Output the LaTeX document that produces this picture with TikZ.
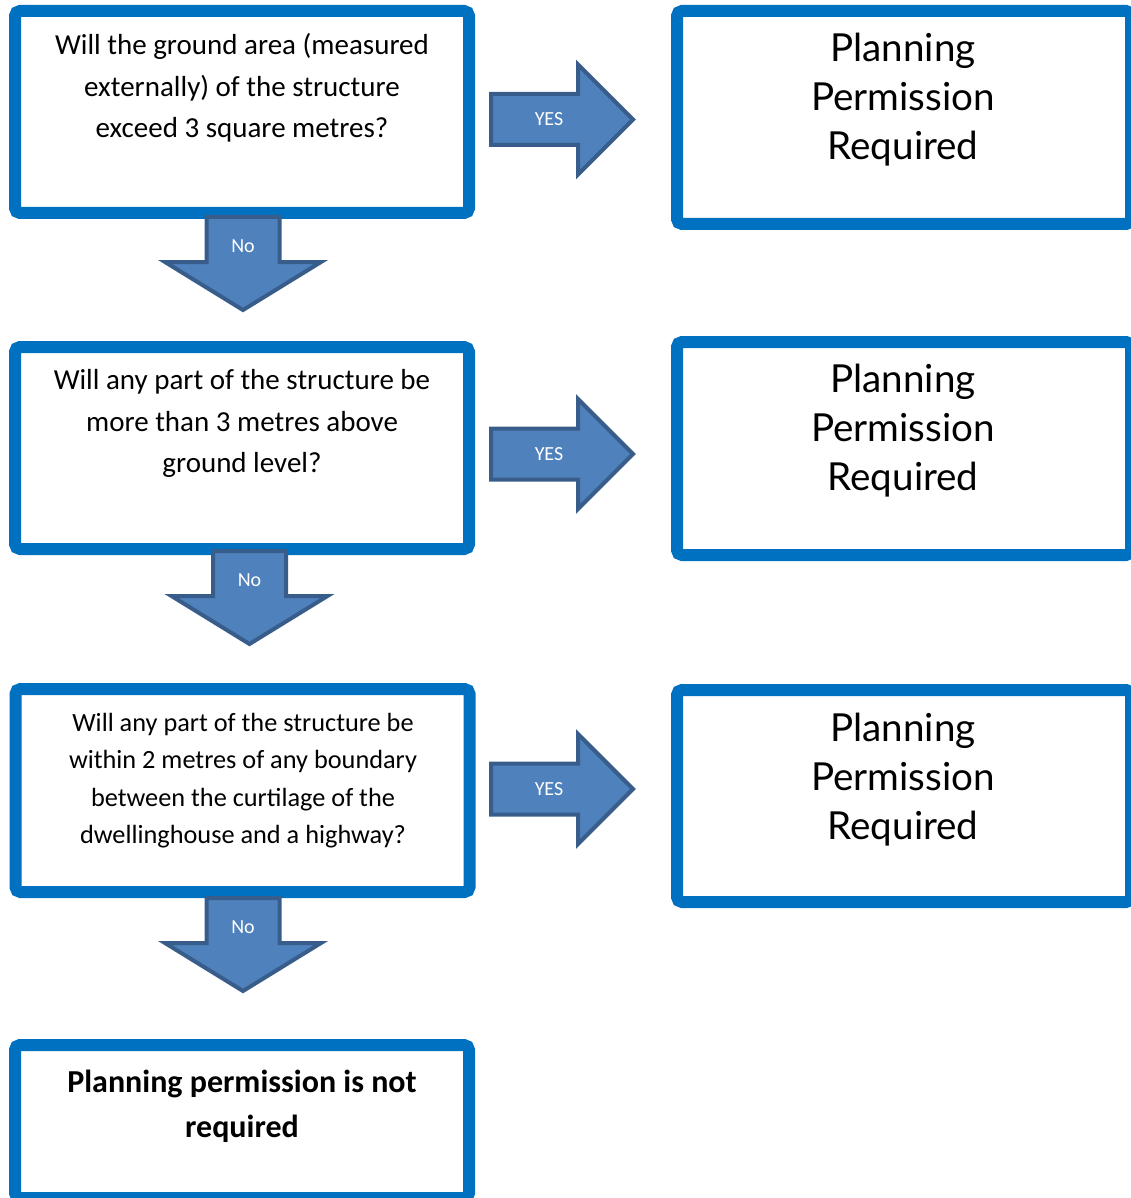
\documentclass[tikz,border=0pt]{standalone}
\usepackage{fontspec}
\setmainfont{Carlito}
\newfontfamily\gillfont{Lato}
\usepackage{tikz}
\usetikzlibrary{positioning}
\definecolor{boxblue}{HTML}{0070C0}
\definecolor{arrowfill}{HTML}{4F81BD}
\definecolor{arrowline}{HTML}{385D8A}

\begin{document}
\begin{tikzpicture}[x=1pt, y=-1pt,
  box/.style={draw=boxblue, line width=12pt, rounded corners=5pt, minimum width=454pt, inner sep=0pt},
  qtext/.style={align=center, font=\fontsize{29}{41.5}\selectfont},
  rtext/.style={align=center, font=\gillfont\fontsize{38.6}{49}\selectfont},
  barrow/.style={fill=arrowfill, draw=arrowline, line width=4pt, line join=miter},
  atext/.style={text=white, font=\fontsize{20}{24}\selectfont},
  pics/yesarrow/.style={code={
    \draw[barrow] (2,-25.5) -- (89,-25.5) -- (89,-55) -- (144,0) -- (89,55) -- (89,25.5) -- (2,25.5) -- cycle;
    \node[atext] (-l) at (60,0) {#1};
  }},
  pics/noarrow/.style={code={
    \draw[barrow] (-36.5,0) -- (-36.5,45) -- (-78,45) -- (0,93) -- (78,45) -- (36.5,45) -- (36.5,0) -- cycle;
    \node[atext] (-l) at (0,29) {#1};
  }}]
\useasboundingbox (0,0) rectangle (1130,1198);

\node[box, minimum height=202pt] (1) at (242,112) {};
\node[qtext] (1t) at (242,88) {Will the ground area (measured\\externally) of the structure\\exceed 3 square metres?};

\node[box, minimum height=202pt] (2) at (242,448) {};
\node[qtext] (2t) at (242,423.5) {Will any part of the structure be\\more than 3 metres above\\ground level?};

\node[box, minimum height=203pt] (3) at (242.5,790.5) {};
\node[qtext, font=\fontsize{26.3}{37.5}\selectfont] (3t) at (243,780.5) {Will any part of the structure be\\within 2 metres of any boundary\\between the curtilage of the\\dwellinghouse and a highway?};

\node[box, minimum height=153pt] (4) at (242,1121.5) {};
\node[qtext, font=\bfseries\fontsize{32}{45}\selectfont] (4t) at (242,1106) {Planning permission is not\\required};

\node[box, minimum height=213pt] (5) at (904,117.5) {};
\node[rtext] (5t) at (903,100) {Planning\\Permission\\Required};

\node[box, minimum height=213pt] (6) at (904,448.5) {};
\node[rtext] (6t) at (903,431) {Planning\\Permission\\Required};

\node[box, minimum height=212pt] (7) at (904,796) {};
\node[rtext] (7t) at (903,779.5) {Planning\\Permission\\Required};

\pic (y1) at (489,119.5) {yesarrow=YES};
\pic (y2) at (489,454) {yesarrow=YES};
\pic (y3) at (489,789) {yesarrow=YES};

\pic (n1) at (243,217) {noarrow=No};
\pic (n2) at (249.5,551) {noarrow=No};
\pic (n3) at (243,898) {noarrow=No};
\end{tikzpicture}
\end{document}
